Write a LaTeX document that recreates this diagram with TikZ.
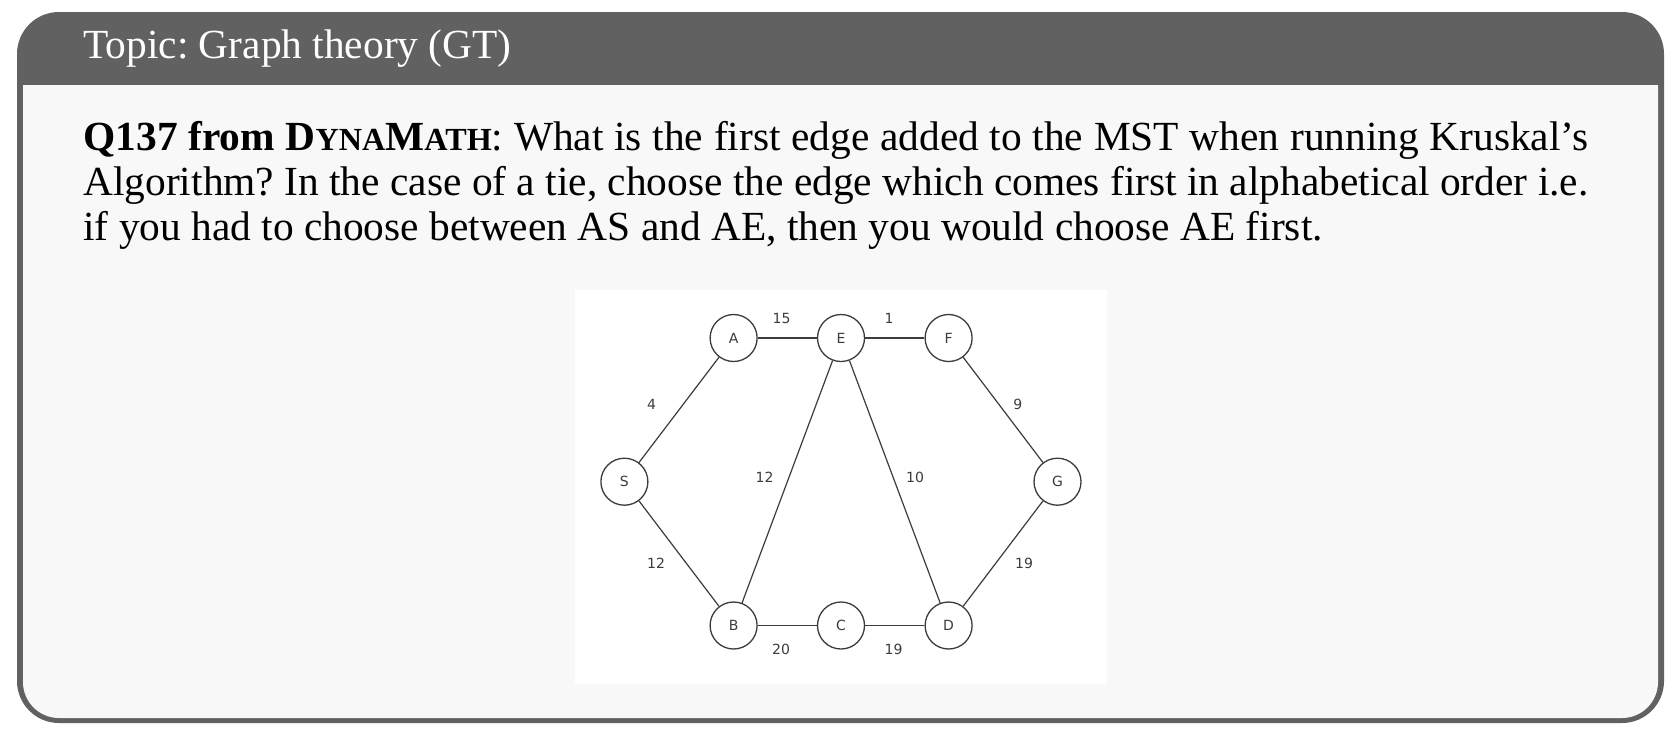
\documentclass[tikz,border=0pt]{standalone}
\usepackage{fontspec}
\setmainfont{Liberation Serif}
\newfontfamily\graphfont{DejaVu Sans}
\definecolor{hdrgray}{HTML}{616161}
\definecolor{bodybg}{HTML}{F8F8F8}
\definecolor{edgecol}{HTML}{3C3C3C}
\tikzset{
  vtx/.style={circle, draw=edgecol, line width=0.65pt, fill=white, minimum size=23.5pt, inner sep=0pt, font=\graphfont\fontsize{7}{8}\selectfont, text=edgecol},
  elabel/.style={font=\graphfont\fontsize{7}{8}\selectfont, text=edgecol, inner sep=0pt},
  gedge/.style={draw=edgecol, line width=0.6pt},
  bodyline/.style={anchor=base west, inner sep=0pt, font=\fontsize{20.7}{24}\selectfont}
}
\newcommand{\fsc}[1]{{\fontsize{16.1}{18}\selectfont #1}}
\frenchspacing
\begin{document}
\begin{tikzpicture}[x=0.5pt,y=-0.5pt]
\useasboundingbox (0,0) rectangle (1680,740);
\fill[white] (0,0) rectangle (1680,740);
% outer frame + header
\fill[hdrgray, rounded corners=21pt] (17,12) rectangle (1664,723);
\fill[bodybg] (23,85) -- (1658,85) [rounded corners=18pt] -- (1658,718) -- (23,718) [sharp corners] -- cycle;
\node[anchor=base west, inner sep=0pt, text=white, font=\fontsize{20.7}{24}\selectfont] (hdr) at (83,58) {Topic: Graph theory (GT)};
% body text
\node[bodyline] (l1) at (83,150) {\makebox[752.5pt][s]{\textbf{Q137 from D\fsc{YNA}M\fsc{ATH}}: What is the first edge added to the MST when running Kruskal’s}};
\node[bodyline] (l2) at (83,195) {\makebox[752.5pt][s]{Algorithm? In the case of a tie, choose the edge which comes first in alphabetical order i.e.}};
\node[bodyline] (l3) at (83,240) {if you had to choose between AS and AE, then you would choose AE first.};
% graph image
\fill[white] (575,290) rectangle (1107,684);
\node[vtx] (A) at (733.6,338) {A};
\node[vtx] (E) at (841,338) {E};
\node[vtx] (F) at (948.6,338) {F};
\node[vtx] (S) at (624.4,481.7) {S};
\node[vtx] (G) at (1057.5,481.7) {G};
\node[vtx] (B) at (733.6,625.5) {B};
\node[vtx] (C) at (841,625.5) {C};
\node[vtx] (D) at (948.6,625.5) {D};
\draw[gedge] (A) -- (E);
\draw[gedge] (E) -- (F);
\draw[gedge] (S) -- (A);
\draw[gedge] (F) -- (G);
\draw[gedge] (E) -- (B);
\draw[gedge] (E) -- (D);
\draw[gedge] (S) -- (B);
\draw[gedge] (G) -- (D);
\draw[gedge] (B) -- (C);
\draw[gedge] (C) -- (D);
\node[elabel] (wAE) at (781.5,318) {15};
\node[elabel] (wEF) at (889,318) {1};
\node[elabel] (wSA) at (651.5,404) {4};
\node[elabel] (wFG) at (1017.7,404) {9};
\node[elabel] (wEB) at (764.5,477) {12};
\node[elabel] (wED) at (915,477) {10};
\node[elabel] (wSB) at (656,563) {12};
\node[elabel] (wGD) at (1024,563) {19};
\node[elabel] (wBC) at (781,649) {20};
\node[elabel] (wCD) at (893.5,649) {19};
\end{tikzpicture}
\end{document}
